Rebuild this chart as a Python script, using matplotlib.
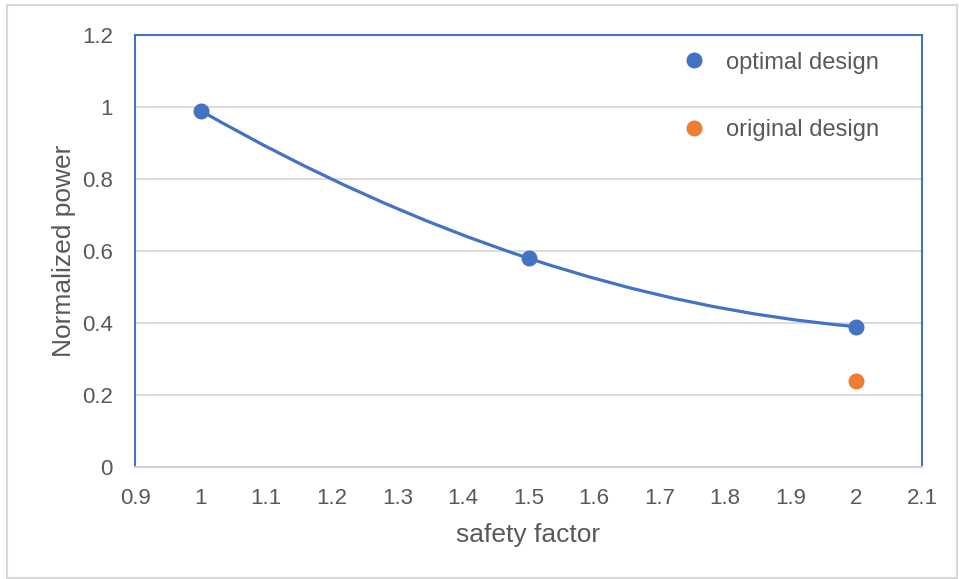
import numpy as np
import matplotlib
matplotlib.use('Agg')
import matplotlib.pyplot as plt
from matplotlib.path import Path
from matplotlib.patches import PathPatch, Rectangle

plt.rcParams['font.family'] = ['Liberation Sans', 'DejaVu Sans']

# data
safety_factor = [1.0, 1.5, 2.0]
optimal_power = [0.99, 0.58, 0.39]
original_sf = [2.0]
original_power = [0.24]

blue = '#4472C4'
orange = '#ED7D31'
grey_txt = '#595959'

fig = plt.figure(figsize=(9.59, 5.79), dpi=100)
ax = fig.add_axes([0.1408, 0.1934, 0.8206, 0.7461])

# smoothed line: Catmull-Rom Bezier through the points,
# ends extended by quadratic extrapolation
pts = np.column_stack([safety_factor, optimal_power])
first = 3 * pts[0] - 3 * pts[1] + pts[2]
last = 3 * pts[-1] - 3 * pts[-2] + pts[-3]
ext = np.vstack([first, pts, last])
verts = [tuple(pts[0])]
codes = [Path.MOVETO]
for i in range(1, len(ext) - 2):
    p0, p1, p2, p3 = ext[i - 1], ext[i], ext[i + 1], ext[i + 2]
    c1 = p1 + (p2 - p0) / 6.0
    c2 = p2 - (p3 - p1) / 6.0
    verts += [tuple(c1), tuple(c2), tuple(p2)]
    codes += [Path.CURVE4] * 3
ax.add_patch(PathPatch(Path(verts, codes), facecolor='none', edgecolor=blue,
                       lw=2.3, zorder=3, capstyle='round'))

ax.plot(safety_factor, optimal_power, 'o', color=blue, ms=10.5,
        label='optimal design', zorder=4)
ax.plot(original_sf, original_power, 'o', color=orange, ms=10.5,
        label='original design', zorder=4)

ax.set_xlim(0.9, 2.1)
ax.set_ylim(0, 1.2)
ax.set_xticks(np.arange(0.9, 2.11, 0.1))
ax.set_xticklabels(['0.9', '1', '1.1', '1.2', '1.3', '1.4', '1.5', '1.6',
                    '1.7', '1.8', '1.9', '2', '2.1'])
ax.set_yticks(np.arange(0, 1.21, 0.2))
ax.set_yticklabels(['0', '0.2', '0.4', '0.6', '0.8', '1', '1.2'])
ax.tick_params(axis='x', length=0, pad=15, labelsize=16, colors=grey_txt)
ax.tick_params(axis='y', length=0, pad=16, labelsize=16, colors=grey_txt)
ax.grid(axis='y', color='#D9D9D9', lw=1.3)
ax.set_axisbelow(True)

for s in ['left', 'top', 'right']:
    ax.spines[s].set_color(blue)
    ax.spines[s].set_linewidth(1.5)
ax.spines['bottom'].set_color('#D0D0D8')
ax.spines['bottom'].set_linewidth(1.5)

ax.set_xlabel('safety factor', fontsize=19, color=grey_txt, labelpad=10.5)
ax.set_ylabel('Normalized power', fontsize=19, color=grey_txt, labelpad=4)

leg = ax.legend(loc='upper left', bbox_to_anchor=(0.665, 1.011), frameon=False,
                fontsize=17, labelspacing=1.93, handletextpad=0.76,
                handlelength=1.2, markerscale=1.0)
for t in leg.get_texts():
    t.set_color(grey_txt)

# outer chart border
fig.patches.append(Rectangle((7 / 959, 1 / 579), 950 / 959, 573 / 579,
                             transform=fig.transFigure, fill=False,
                             edgecolor='#D9D9D9', lw=1.5))

fig.savefig('out.png', dpi=100)
